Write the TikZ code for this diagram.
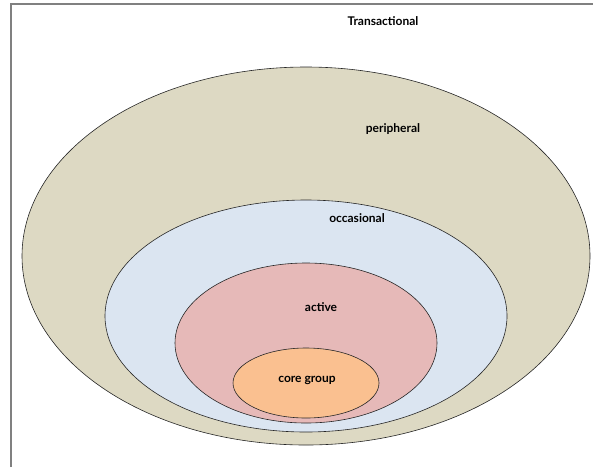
\documentclass[tikz,border=0pt]{standalone}
\usepackage{fontspec}
\setmainfont{Lato}
\usepackage{xcolor}
\definecolor{tan_ring}{HTML}{DDD9C3}
\definecolor{blue_ring}{HTML}{DBE5F1}
\definecolor{pink_ring}{HTML}{E6B9B8}
\definecolor{orange_core}{HTML}{FAC090}

\begin{document}
\begin{tikzpicture}[x=1pt,y=-1pt,
    ring/.style={draw=black!85, line width=0.6pt},
    lbl/.style={font=\bfseries\fontsize{12}{14}\selectfont}]
    \useasboundingbox (0,0) rectangle (593,467);

    % Cadre gris (bords gauche et haut)
    \draw[black!50, line width=1.3pt] (11,467) -- (11,4) -- (593,4);

    % Centres des ellipses
    \coordinate (T) at (306,256);
    \coordinate (O) at (306,316);
    \coordinate (A) at (306,343);
    \coordinate (C) at (306,383);

    % Les anneaux, du plus grand au plus petit
    \draw[ring, fill=tan_ring] (T) ellipse [x radius=284, y radius=189];
    \draw[ring, fill=blue_ring] (O) ellipse [x radius=201, y radius=116];
    \draw[ring, fill=pink_ring] (A) ellipse [x radius=131, y radius=80];
    \draw[ring, fill=orange_core] (C) ellipse [x radius=73, y radius=35];

    % Les textes
    \node[lbl] (transactional) at (383,21) {Transactional};
    \node[lbl] (peripheral) at (393,129) {peripheral};
    \node[lbl] (occasional) at (357,218) {occasional};
    \node[lbl] (active) at (321,307) {active};
    \node[lbl] (core) at (307,380) {core group};
\end{tikzpicture}
\end{document}
